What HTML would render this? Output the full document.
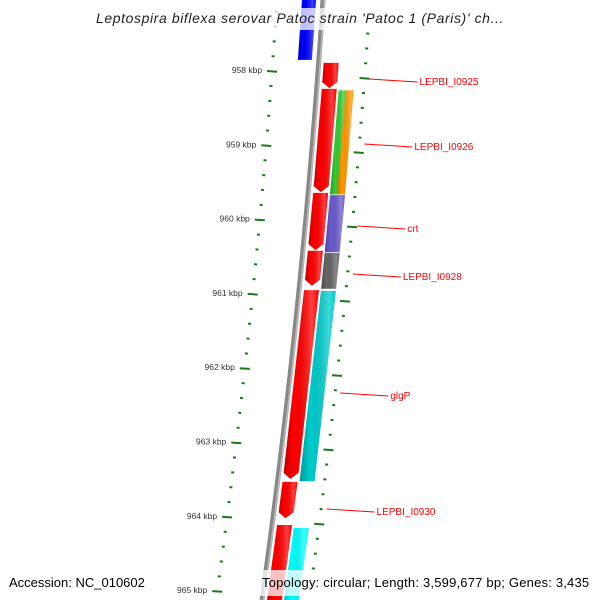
<!DOCTYPE html>
<html><head><meta charset="utf-8"><style>
html,body{margin:0;background:#fff;overflow:hidden;width:600px;height:600px}
svg{display:block;font-family:"Liberation Sans","DejaVu Sans",sans-serif}
</style></head><body>
<svg id="map" width="600" height="600" viewBox="0 0 600 600">
<defs>
<linearGradient id="shade" x1="0" x2="1" y1="0" y2="0">
<stop offset="0" stop-color="#000" stop-opacity="0.25"/><stop offset="0.3" stop-color="#000" stop-opacity="0"/><stop offset="0.8" stop-color="#fff" stop-opacity="0.25"/><stop offset="1" stop-color="#fff" stop-opacity="0"/>
</linearGradient>
</defs>
<g id="layer"></g>
<rect x="95" y="8" width="410" height="22" fill="#fff" fill-opacity="0.75"/>
<text x="300" y="23" text-anchor="middle" font-size="14" letter-spacing="0.6" font-style="italic" fill="#222">Leptospira biflexa serovar Patoc strain 'Patoc 1 (Paris)' ch...</text>
<rect x="258" y="570" width="342" height="26" fill="#fff" fill-opacity="0.75"/>
<text x="9" y="587" font-size="13" fill="#000">Accession: NC_010602</text>
<text x="262" y="587" font-size="13" letter-spacing="0.2" fill="#000">Topology: circular; Length: 3,599,677 bp; Genes: 3,435</text>
</svg>
<script>
const majorTicks=[958,959,960,961,962,963,964,965];
const geneNames=["blue-gene","LEPBI_I0925","LEPBI_I0926","green-gene","orange-gene","red-gene-3","crt","red-gene-4","LEPBI_I0928","red-gene-5","glgP","LEPBI_I0930","red-gene-7","cyan-gene-2"];
const geneStart=[957.04,957.89,958.24,958.26,958.26,959.64,959.67,960.42,960.45,960.95,960.96,963.53,964.11,964.15];
const geneEnd=[957.85,958.23,959.63,959.66,959.66,960.41,960.44,960.89,960.93,963.49,963.52,964.02,965.2,965.2];
const geneLane=[-1,1,1,2,3,1,2,1,2,1,2,1,1,2];
const geneColor=["#0000ff","#ff0000","#ff0000","#33cc33","#ff9900","#ff0000","#6a5acd","#ff0000","#666666","#ff0000","#00cccc","#ff0000","#ff0000","#00ffff"];
const geneArrow=[0,1,1,0,0,1,0,1,0,1,0,1,0,0];
const labelText=["LEPBI_I0925","LEPBI_I0926","crt","LEPBI_I0928","glgP","LEPBI_I0930"];
const labelKbp=[958.1,958.98,960.08,960.7,962.3,963.85];
const labelY=[81,146,228,276,395,511];

const NS="http://www.w3.org/2000/svg";
const layer=document.getElementById('layer');
function yOf(k){return 71+(k-958)*74.3;}
function bx(y){return 323-0.065*y-6.1e-5*y*y;}
function mk(t,a){const e=document.createElementNS(NS,t);for(const k in a)e.setAttribute(k,a[k]);layer.appendChild(e);return e;}
let pts=[];for(let y=0;y<=600;y+=10)pts.push([bx(y),y]);
const bb=mk('polyline',{points:pts.map(p=>p.join(',')).join(' '),fill:'none',stroke:'#888',"stroke-width":5});


const bb2=mk('polyline',{points:pts.map(p=>(p[0]+1.5)+','+p[1]).join(' '),fill:'none',stroke:'#bbb',"stroke-width":1.5});


for(let k=956.6;k<=966.4;k+=0.2){
  const kk=Math.round(k*10)/10;const y=yOf(kk);const maj=Math.abs(kk-Math.round(kk))<0.01;
  if(y<2||y>598)continue;
  const x=bx(y);
  const l=mk('line',{x1:x-46-(maj?5:1.5),y1:y,x2:x-46+(maj?5:1.5),y2:y+(maj?0.7:0.3),stroke:'#1a7a1a',"stroke-width":2});
  
  
  const yr=y+7;if(yr>598)continue;const xr=bx(yr)+47;
  const r=mk('line',{x1:xr-(maj?5:1.5),y1:yr,x2:xr+(maj?5:1.5),y2:yr+(maj?0.7:0.3),stroke:'#1a7a1a',"stroke-width":2});
  
  
}
majorTicks.forEach(k=>{const y=yOf(k);const t=mk('text',{x:bx(y)-56,y:y+2,"text-anchor":"end","font-size":"8.5",fill:'#333'});t.textContent=k+' kbp';
 
 });
const laneOff={"-1":[-21,-7],"1":[5,20],"2":[22,37],"3":[29,37]};
geneNames.forEach((n,i)=>{
  let off=laneOff[geneLane[i]];
  if(geneColor[i]==="#33cc33")off=[22,30];
  const y1=yOf(geneStart[i]),y2=Math.min(yOf(geneEnd[i]),600);
  const a=geneArrow[i]?6:0;
  const ym=y2-a;
  const p=[[bx(y1)+off[0],y1],[bx(y1)+off[1],y1],[bx(ym)+off[1],ym],[bx(y2)+(off[0]+off[1])/2,y2],[bx(ym)+off[0],ym]];
  const g=mk('polygon',{points:p.map(q=>q.join(',')).join(' '),fill:geneColor[i]});
  
  
  const s=mk('polygon',{points:p.map(q=>q.join(',')).join(' '),fill:'url(#shade)'});
  
  
});
labelText.forEach((t,i)=>{
  const y=yOf(labelKbp[i]);const x0=bx(y)+52;
  const l=mk('line',{x1:x0,y1:labelY[i]-2,x2:x0+48,y2:labelY[i]+1,stroke:'#ff0000',"stroke-width":1});
  
  
  const tx=mk('text',{x:x0+50,y:labelY[i]+4,"font-size":"10",fill:'#ff0000'});tx.textContent=t;
  
  
});
</script>
</body></html>
